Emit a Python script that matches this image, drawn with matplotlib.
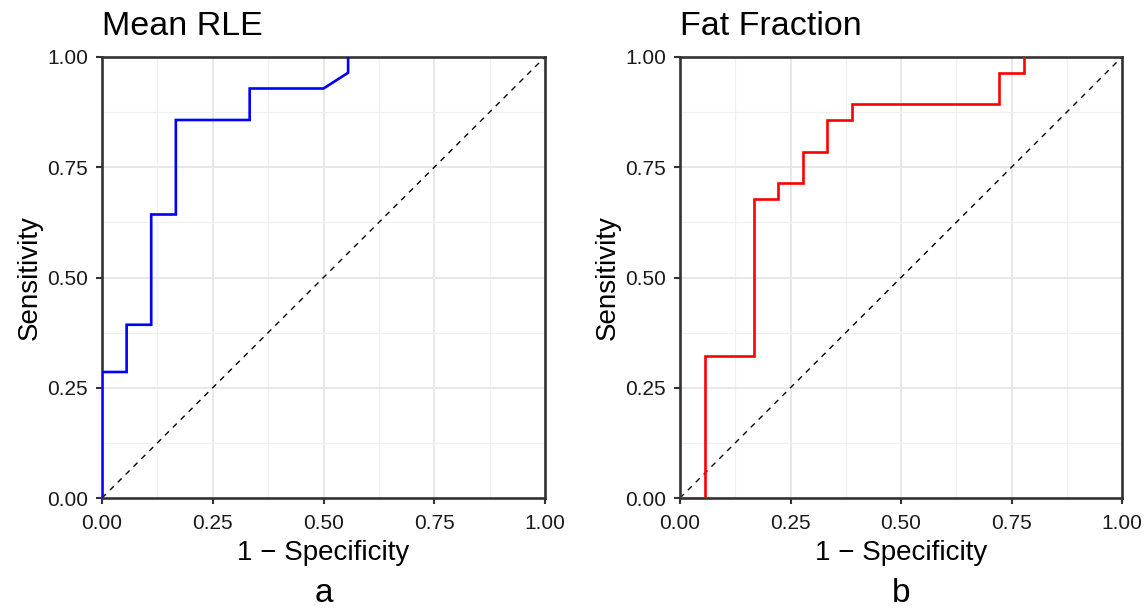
import numpy as np
import matplotlib
matplotlib.use("Agg")
import matplotlib.pyplot as plt
from matplotlib.ticker import MultipleLocator

plt.rcParams['font.family'] = ['Liberation Sans', 'DejaVu Sans']

# ROC curve vertices (1 - specificity, sensitivity)
rle_fpr = [0, 0, 1/18, 1/18, 2/18, 2/18, 3/18, 3/18, 6/18, 6/18, 9/18, 10/18, 10/18]
rle_tpr = [0, 8/28, 8/28, 11/28, 11/28, 18/28, 18/28, 24/28, 24/28, 26/28, 26/28, 27/28, 1]

ff_fpr = [0, 1/18, 1/18, 3/18, 3/18, 4/18, 4/18, 5/18, 5/18, 6/18, 6/18, 7/18, 7/18,
          13/18, 13/18, 14/18, 14/18]
ff_tpr = [0, 0, 9/28, 9/28, 19/28, 19/28, 20/28, 20/28, 22/28, 22/28, 24/28, 24/28, 25/28,
          25/28, 27/28, 27/28, 1]

titles = ["Mean RLE", "Fat Fraction"]
panel_labels = ["a", "b"]
colors = ["#0000FF", "#FF0000"]
ticks = [0, 0.25, 0.5, 0.75, 1.0]
tick_labels = ["0.00", "0.25", "0.50", "0.75", "1.00"]

fig = plt.figure(figsize=(11.48, 6.11), dpi=100)
W, H = 1148, 611
boxes = [(102, 545), (680, 1122)]
top, bottom = 57, 498

curves = [(rle_fpr, rle_tpr), (ff_fpr, ff_tpr)]
for i, (x0, x1) in enumerate(boxes):
    ax = fig.add_axes([x0 / W, 1 - bottom / H, (x1 - x0) / W, (bottom - top) / H])
    fpr, tpr = curves[i]
    ax.plot(fpr, tpr, color=colors[i], lw=1.9, solid_joinstyle='miter', zorder=5)
    ax.plot([0, 1], [0, 1], color='black', lw=1.0, ls=(0, (4, 4)), zorder=2)
    ax.set_xlim(0, 1)
    ax.set_ylim(0, 1)
    ax.set_xticks(ticks)
    ax.set_xticklabels(tick_labels)
    ax.set_yticks(ticks)
    ax.set_yticklabels(tick_labels)
    ax.xaxis.set_minor_locator(MultipleLocator(0.125))
    ax.yaxis.set_minor_locator(MultipleLocator(0.125))
    ax.grid(which='major', color='#E8E8E8', lw=1.4, zorder=0)
    ax.grid(which='minor', color='#F0F0F0', lw=0.9, zorder=0)
    ax.set_axisbelow(True)
    ax.tick_params(which='major', direction='out', length=4.5, width=1.5, color='#333333',
                   labelsize=15, labelcolor='#1A1A1A')
    ax.tick_params(axis='x', which='major', pad=7)
    ax.tick_params(axis='y', which='major', pad=5.5)
    ax.tick_params(which='minor', length=0)
    for sp in ax.spines.values():
        sp.set_color('#333333')
        sp.set_linewidth(1.9)
        sp.set_zorder(4)
    ax.set_xlabel("1 \u2212 Specificity", fontsize=20, labelpad=5)
    ax.set_ylabel("Sensitivity", fontsize=20, labelpad=3)
    ax.set_title(titles[i], loc='left', fontsize=24.5, pad=16)
    fig.text((x0 + x1) / 2 / W, 1 - 594 / H, panel_labels[i], fontsize=24,
             ha='center', va='center')

fig.savefig("out.png", dpi=100)
